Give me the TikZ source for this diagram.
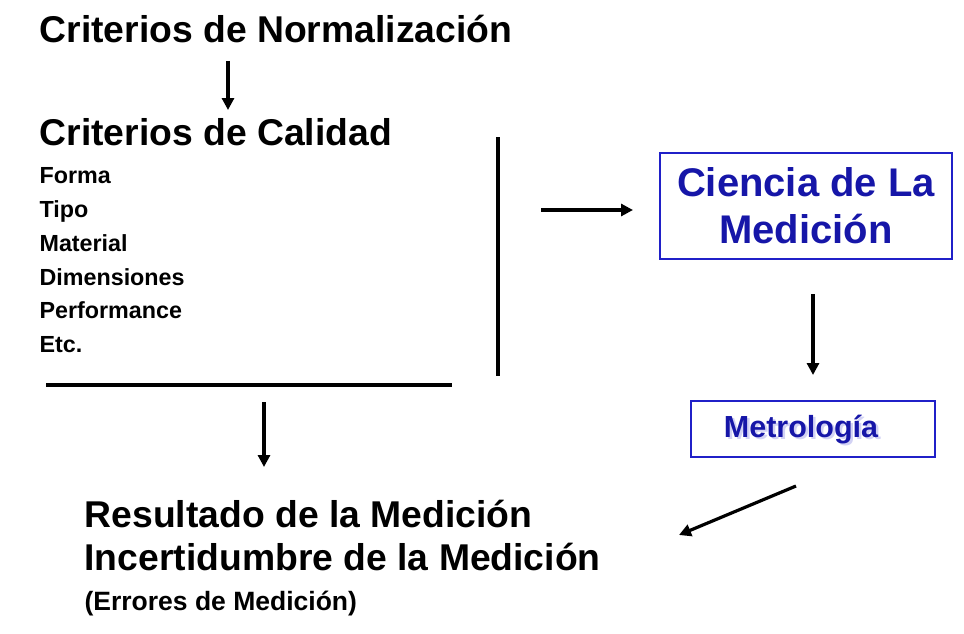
\documentclass[tikz,border=0pt]{standalone}
\usepackage{fontspec}
\setmainfont{Liberation Sans}
\usetikzlibrary{arrows.meta}
\definecolor{azultexto}{RGB}{22,22,168}
\definecolor{azulmarco}{RGB}{32,32,200}
\begin{document}
\begin{tikzpicture}[x=1pt,y=-1pt,>={Triangle[length=12pt,width=12pt]},line width=3.2pt,
	grande/.style={anchor=base west,inner sep=0pt,font=\fontsize{37.3}{40}\selectfont\bfseries},
	chico/.style={anchor=base west,inner sep=0pt,font=\fontsize{23.3}{26}\selectfont\bfseries},
	marco/.style={draw=azulmarco,line width=2pt,inner sep=0pt}]
	\useasboundingbox (0,0) rectangle (964,634);
	% textos de la izquierda
	\node[grande] (norm) at (38,43) {Criterios de Normalización};
	\node[grande] (cal) at (38,145) {Criterios de Calidad};
	\node[chico] (forma) at (38,183) {Forma};
	\node[chico] (tipo) at (38,217) {Tipo};
	\node[chico] (mat) at (38,251) {Material};
	\node[chico] (dim) at (38,285) {Dimensiones};
	\node[chico] (perf) at (38,318) {Performance};
	\node[chico] (etc) at (38,352) {Etc.};
	\node[grande] (res) at (83,527) {Resultado de la Medición};
	\node[grande] (inc) at (83,570) {Incertidumbre de la Medición};
	\node[chico,font=\fontsize{26.5}{28}\selectfont\bfseries] (err) at (83,610) {(Errores de Medición)};
	% cajas azules
	\node[marco,minimum width=292pt,minimum height=106pt,align=center,text=azultexto,
		font=\fontsize{40}{47}\selectfont\bfseries] (ciencia) at (806,206) {Ciencia de La\\Medición};
	\node[marco,minimum width=244pt,minimum height=56pt] (metro) at (813,429) {};
	\node[font=\fontsize{30.5}{32}\selectfont\bfseries,text=azulmarco!20] (sombra) at (803.5,432) {Metrología};
	\node[font=\fontsize{30.5}{32}\selectfont\bfseries,text=azultexto] (metrotxt) at (801,430) {Metrología};
	% barras
	\coordinate (b1) at (498,137);
	\coordinate (b2) at (498,376);
	\coordinate (h1) at (46,385);
	\coordinate (h2) at (452,385);
	\draw[line width=3.6pt] (b1)--(b2);
	\draw[line width=3.6pt] (h1)--(h2);
	% flechas
	\coordinate (f1a) at (228,61);
	\coordinate (f1b) at (228,110);
	\coordinate (f2a) at (541,210);
	\coordinate (f2b) at (633,210);
	\coordinate (f3a) at (264,402);
	\coordinate (f3b) at (264,467);
	\coordinate (f4a) at (796,486);
	\coordinate (f4b) at (679,535);
	\draw[->] (f1a)--(f1b);
	\draw[->] (f2a)--(f2b);
	\draw[->,shorten <=34pt,shorten >=25pt] (metro.north |- ciencia.south)--(metro.north);
	\draw[->] (f3a)--(f3b);
	\draw[->] (f4a)--(f4b);
\end{tikzpicture}
\end{document}
